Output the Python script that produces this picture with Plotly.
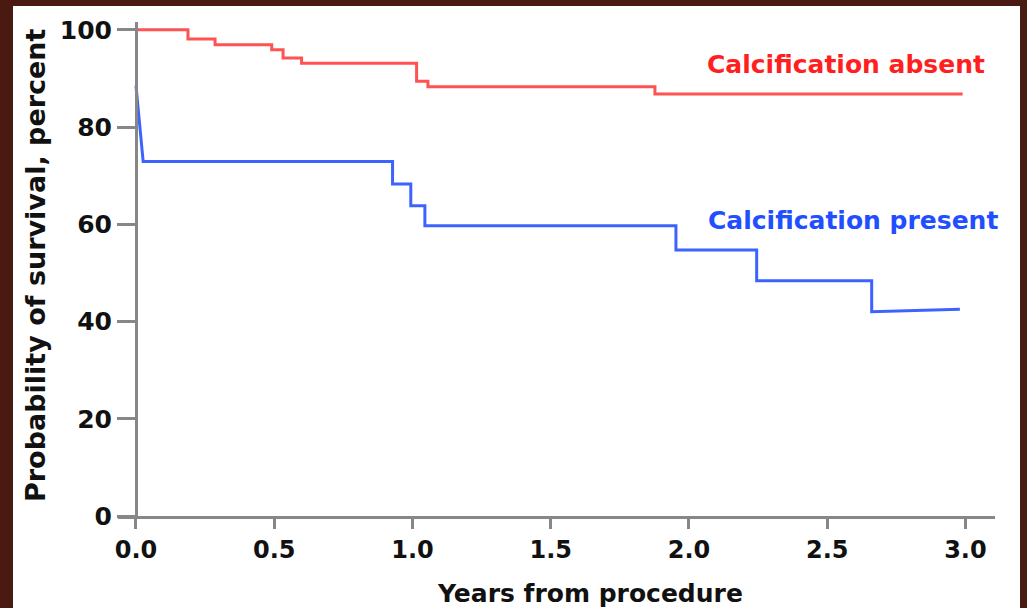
import plotly.graph_objects as go

# Kaplan-Meier style survival data
absent_times = [0.0, 0.188, 0.286, 0.491, 0.532, 0.599, 1.015, 1.056, 1.877]
absent_surv = [100.0, 98.1, 96.9, 95.9, 94.2, 93.1, 89.4, 88.3, 86.8]
absent_end = [2.99, 86.8]

present_start_x = [0.0]
present_start_y = [88.5]
present_times = [0.026, 0.928, 0.994, 1.045, 1.953, 2.245, 2.661]
present_surv = [72.9, 68.3, 63.8, 59.7, 54.7, 48.4, 42.0]
present_end = [2.98, 42.5]

x_ticks = [0.0, 0.5, 1.0, 1.5, 2.0, 2.5, 3.0]
x_ticktext = ["0.0", "0.5", "1.0", "1.5", "2.0", "2.5", "3.0"]
y_ticks = [0, 20, 40, 60, 80, 100]


def step_path(times, values):
    xs, ys = [], []
    for i, (t, v) in enumerate(zip(times, values)):
        if i > 0:
            xs.append(t)
            ys.append(values[i - 1])
        xs.append(t)
        ys.append(v)
    return xs, ys


ax, ay = step_path(absent_times, absent_surv)
ax.append(absent_end[0]); ay.append(absent_end[1])

px, py = step_path(present_times, present_surv)
px = present_start_x + px + [present_end[0]]
py = present_start_y + py + [present_end[1]]

RED_LINE = "#ff5252"
BLUE_LINE = "#3d63ff"
GREY = "#878787"
BG = "#4a1912"
FONT = "DejaVu Sans"

fig = go.Figure()
fig.add_trace(go.Scatter(x=ax, y=ay, mode="lines", line=dict(color=RED_LINE, width=3),
                         showlegend=False, hoverinfo="skip"))
fig.add_trace(go.Scatter(x=px, y=py, mode="lines", line=dict(color=BLUE_LINE, width=3),
                         showlegend=False, hoverinfo="skip"))

L, R, T, B = 118, 32, 22, 92
W, H = 1027, 608
pw, ph = W - L - R, H - T - B


def px2paper_x(p):
    return (p - L) / pw


def px2paper_y(p):
    return (H - B - p) / ph


# white panel on dark background
fig.add_shape(type="rect", xref="paper", yref="paper",
              x0=px2paper_x(13), x1=px2paper_x(1020),
              y0=px2paper_y(615), y1=px2paper_y(6),
              fillcolor="white", line=dict(width=0), layer="below")

fig.update_layout(
    width=W, height=H, autosize=False,
    margin=dict(l=L, r=R, t=T, b=B, pad=0),
    paper_bgcolor=BG,
    plot_bgcolor="rgba(0,0,0,0)",
    font=dict(family=FONT, color="#111111"),
    xaxis=dict(range=[-0.065, 3.107], tickvals=x_ticks, ticktext=x_ticktext,
               showline=True, linecolor=GREY, linewidth=3,
               ticks="outside", ticklen=10, tickwidth=3, tickcolor=GREY,
               showgrid=False, zeroline=False,
               tickfont=dict(family=FONT, size=24, color="#111111", weight="bold")),
    yaxis=dict(range=[0, 101.6], tickvals=y_ticks, anchor="free",
               position=18 / pw,
               showline=True, linecolor=GREY, linewidth=3,
               ticks="outside", ticklen=18, tickwidth=3, tickcolor=GREY,
               showgrid=False, zeroline=False,
               tickfont=dict(family=FONT, size=25, color="#111111", weight="bold")),
)

fig.add_annotation(text="Probability of survival, percent", xref="paper", yref="paper",
                   x=px2paper_x(35), y=px2paper_y(265), textangle=-90,
                   showarrow=False, xanchor="center", yanchor="middle",
                   font=dict(family=FONT, size=27, color="#111111", weight="bold"))
fig.add_annotation(text="Years from procedure", xref="paper", yref="paper",
                   x=px2paper_x(590), y=px2paper_y(593),
                   showarrow=False, xanchor="center", yanchor="middle",
                   font=dict(family=FONT, size=25, color="#111111", weight="bold"))
fig.add_annotation(text="Calcification absent", xref="x", yref="y",
                   x=2.568, y=92.8, showarrow=False, xanchor="center", yanchor="middle",
                   font=dict(family=FONT, size=25, color="#ff1f1f", weight="bold"))
fig.add_annotation(text="Calcification present", xref="x", yref="y",
                   x=2.593, y=60.7, showarrow=False, xanchor="center", yanchor="middle",
                   font=dict(family=FONT, size=25, color="#1f4fff", weight="bold"))

fig.write_html(
    "out.html",
    config={"displayModeBar": False},
    post_script="document.body.style.margin='0';document.body.style.background='" + BG + "';",
)
